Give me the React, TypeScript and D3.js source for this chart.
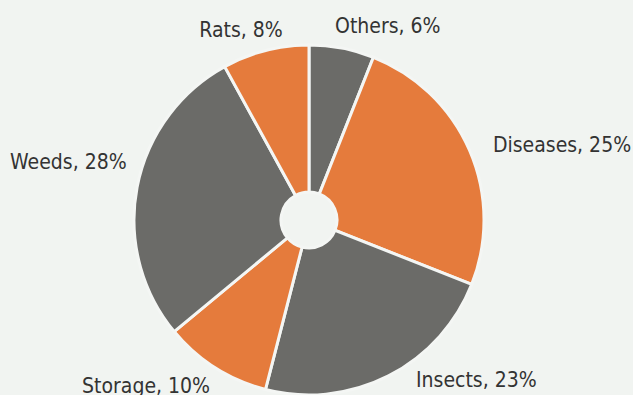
import React from "react";
import * as d3 from "d3";

const categories = ["Others", "Diseases", "Insects", "Storage", "Weeds", "Rats"];
const values = [6, 25, 23, 10, 28, 8];
const colors = ["#6b6b68", "#e57b3c", "#6b6b68", "#e57b3c", "#6b6b68", "#e57b3c"];
// label nudges (dx, dy) relative to the label-arc point
const labelNudge: [number, number][] = [
  [-10.5, 4.5],
  [5, 9.7],
  [18.5, -7],
  [5.5, 8.3],
  [9.2, -14.5],
  [22.2, 5.7],
];

const W = 633;
const H = 395;
const cx = 309;
const cy = 220;
const R = 175;
const r0 = 28;

export default function App() {
  const pie = d3.pie<number>().sort(null).value((d) => d)(values);
  const arc = d3.arc<d3.PieArcDatum<number>>().innerRadius(r0).outerRadius(R);
  const labelArc = d3.arc<d3.PieArcDatum<number>>().innerRadius(R + 20).outerRadius(R + 20);
  return (
    <svg
      width={W}
      height={H}
      style={{ position: "absolute", left: 0, top: 0, background: "#f1f4f1" }}
    >
      <rect width={W} height={H} fill="#f1f4f1" />
      <g transform={`translate(${cx},${cy})`}>
        {pie.map((p, i) => (
          <path key={i} d={arc(p) || ""} fill={colors[i]} stroke="#f4f6f4" strokeWidth={3} />
        ))}
        {pie.map((p, i) => {
          const [lx, ly] = labelArc.centroid(p);
          const mid = (p.startAngle + p.endAngle) / 2;
          const right = mid < Math.PI;
          return (
            <text
              key={"l" + i}
              x={lx + labelNudge[i][0]}
              y={ly + labelNudge[i][1]}
              textAnchor={right ? "start" : "end"}
              fontFamily="'DejaVu Sans Condensed', 'DejaVu Sans', sans-serif"
              fontSize={21}
              fill="#333333"
            >
              {`${categories[i]}, ${values[i]}%`}
            </text>
          );
        })}
      </g>
    </svg>
  );
}
